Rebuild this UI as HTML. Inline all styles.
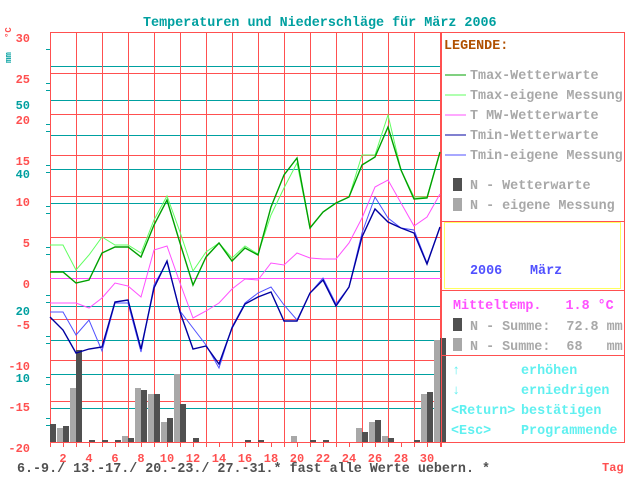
<!DOCTYPE html>
<html><head><meta charset="utf-8"><style>
html,body{margin:0;padding:0;background:#fff;}
svg{display:block;}
text{font-family:"Liberation Mono",monospace;font-weight:bold;white-space:pre;}
</style></head><body>
<svg id="s" width="640" height="480" xmlns="http://www.w3.org/2000/svg" xml:space="preserve">
<rect width="640" height="480" fill="#fff"/>
<text x="143" y="26" fill="#00a0a0" font-size="13.4">Temperaturen und Niederschläge für März 2006</text>
<g id="grid"></g>
<g id="bars"></g>
<g id="lines" fill="none"></g>
<g font-size="12" fill="#ff5050" text-anchor="end" font-weight="normal">
<text x="30" y="42">30</text><text x="30" y="83">25</text><text x="30" y="124">20</text>
<text x="30" y="165">15</text><text x="30" y="206">10</text><text x="30" y="247">5</text>
<text x="30" y="288">0</text><text x="30" y="329">-5</text><text x="30" y="370">-10</text>
<text x="30" y="411">-15</text><text x="30" y="452">-20</text>
</g>
<g font-size="12" fill="#00a0a0" text-anchor="end">
<text x="30" y="109">50</text><text x="30" y="178">40</text><text x="30" y="315">20</text><text x="30" y="382">10</text>
</g>
<text transform="translate(11,38) rotate(-90)" font-size="9" fill="#ff5050" font-weight="normal">°C</text>
<text transform="translate(11,63) rotate(-90)" font-size="9" fill="#00a0a0" font-weight="normal">mm</text>
<g id="days" font-size="12" fill="#ff5050" text-anchor="middle" font-weight="normal"></g>
<text x="17" y="472" fill="#505050" font-size="14" textLength="473" lengthAdjust="spacingAndGlyphs">6.-9./ 13.-17./ 20.-23./ 27.-31.* fast alle Werte uebern. *</text>
<text x="602" y="471" fill="#ff5050" font-size="12" font-weight="normal">Tag</text>
<rect x="441.5" y="32.5" width="183" height="410" fill="none" stroke="#ff5050"/>
<line x1="441" y1="221.5" x2="625" y2="221.5" stroke="#ff5050"/>
<line x1="441" y1="290.5" x2="625" y2="290.5" stroke="#ff5050"/>
<line x1="441" y1="355.5" x2="625" y2="355.5" stroke="#ff5050"/>
<rect x="444.5" y="222.5" width="176" height="66" fill="none" stroke="#ffff60"/>
<text x="444" y="49" fill="#b05000" font-size="13.4">LEGENDE:</text>
<g font-size="13.4" fill="#a8a8a8">
<text x="470" y="79">Tmax-Wetterwarte</text>
<text x="470" y="99">Tmax-eigene Messung</text>
<text x="470" y="119">T MW-Wetterwarte</text>
<text x="470" y="139">Tmin-Wetterwarte</text>
<text x="470" y="159">Tmin-eigene Messung</text>
<text x="470" y="189">N - Wetterwarte</text>
<text x="470" y="209">N - eigene Messung</text>
<text x="470" y="330">N - Summe:  72.8 mm</text>
<text x="470" y="350">N - Summe:  68   mm</text>
</g>
<line x1="445" y1="75" x2="466" y2="75" stroke="#00a000"/>
<line x1="445" y1="95" x2="466" y2="95" stroke="#60ff60"/>
<line x1="445" y1="115" x2="466" y2="115" stroke="#ff50ff"/>
<line x1="445" y1="135" x2="466" y2="135" stroke="#0000a0"/>
<line x1="445" y1="155" x2="466" y2="155" stroke="#5050ff"/>
<rect x="453" y="178" width="9" height="13" fill="#505050"/>
<rect x="453" y="198" width="9" height="13" fill="#a8a8a8"/>
<rect x="453" y="318" width="9" height="13" fill="#505050"/>
<rect x="453" y="338" width="9" height="13" fill="#a8a8a8"/>
<g font-size="13.4" fill="#5050ff"><text x="470" y="274">2006</text><text x="530" y="274">März</text></g>
<text x="453" y="309" fill="#ff50ff" font-size="13.4">Mitteltemp.   1.8 °C</text>
<g font-size="13.4" fill="#60f0f0">
<text x="452" y="374">↑</text><text x="521" y="374">erhöhen</text>
<text x="452" y="394">↓</text><text x="521" y="394">erniedrigen</text>
<text x="451" y="414">&lt;Return&gt;</text><text x="521" y="414">bestätigen</text>
<text x="451" y="434">&lt;Esc&gt;</text><text x="521" y="434">Programmende</text>
</g>
</svg>
<script>
var NS="http://www.w3.org/2000/svg";
function el(p,t,a){var e=document.createElementNS(NS,t);for(var k in a)e.setAttribute(k,a[k]);p.appendChild(e);return e;}
var g=document.getElementById("grid"),b=document.getElementById("bars"),l=document.getElementById("lines"),dy=document.getElementById("days");
var X=function(d){return 50+13*(d-1);};
[66,100,135,169,203,237,271,306,340,374,408].forEach(function(y){el(g,"line",{x1:50,x2:441,y1:y+.5,y2:y+.5,stroke:"#00a0a0"});});
[32,73,114,155,196,237,278,319,360,401,442].forEach(function(y){el(g,"line",{x1:50,x2:441,y1:y+.5,y2:y+.5,stroke:"#ff5050"});});
for(var k=0;k<=15;k++){var x=50+26*k;el(g,"line",{x1:x+.5,x2:x+.5,y1:32,y2:447,stroke:"#ff5050"});}
el(g,"line",{x1:441.5,x2:441.5,y1:32,y2:447,stroke:"#ff5050"});
for(var d=1;d<=31;d++){el(g,"line",{x1:X(d)+.5,x2:X(d)+.5,y1:442,y2:447,stroke:"#ff5050"});}
for(var d=2;d<=30;d+=2){var t=el(dy,"text",{x:X(d),y:462});t.textContent=d;}
[49,83,90,124,131,165,172,206,213,247,254,295,302,336,343,377,384,418,425].forEach(function(y){el(g,"line",{x1:46,x2:50,y1:y+.5,y2:y+.5,stroke:"#00a0a0"});});
el(g,"line",{x1:50,x2:441,y1:278.5,y2:278.5,stroke:"#ff50ff"});
var dark={1:424,2:426,3:350,4:440,5:440,6:440,7:438,8:390,9:394,10:418,11:404,12:438,16:440,17:440,21:440,22:440,25:432,26:420,27:438,29:440,30:392,31:338};
var light={2:428,3:388,7:436,8:388,9:394,10:422,11:374,20:436,25:428,26:422,27:436,30:394,31:340};
for(var d in light){el(b,"rect",{x:X(+d)-6,y:light[d],width:6,height:442-light[d],fill:"#a8a8a8"});}
for(var d in dark){el(b,"rect",{x:X(+d),y:dark[d],width:6,height:442-dark[d],fill:"#505050"});}
function pl(arr,c,w){var p=arr.map(function(y,i){return X(i+1)+","+y;}).join(" ");el(l,"polyline",{points:p,stroke:c,"stroke-width":w});}
pl([312,312,335,320,351,303,303,352,285,262,311,328,345,368,327,303,293,287,305,320,293,278,304,287,233,197,218,228,230,263,227],"#5050ff",1);
pl([303,303,303,308,298,283,286,297,250,246,283,318,311,303,289,279,280,263,265,253,258,259,259,243,218,187,180,203,226,217,194],"#ff50ff",1);
pl([245,245,270,255,237,245,245,253,220,196,232,271,252,243,258,246,254,215,188,163,228,212,203,197,155,155,115,170,197,197,152],"#60ff60",1);
pl([272,272,283,280,253,247,247,257,225,200,243,285,257,243,261,248,255,207,175,158,228,212,203,197,165,157,127,170,199,198,152],"#00a000",1.4);
pl([317,330,353,349,347,302,300,349,288,261,312,349,346,364,328,304,297,292,321,321,293,280,306,287,237,209,222,228,233,264,227],"#0000a0",1.4);
</script>
</body></html>
